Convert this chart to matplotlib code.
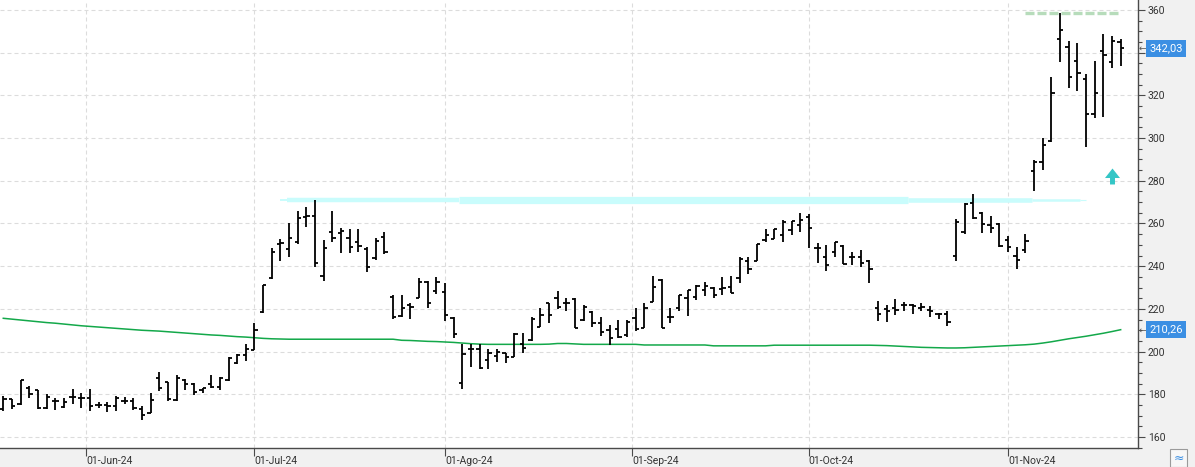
import numpy as np
import matplotlib
matplotlib.use('Agg')
import matplotlib.pyplot as plt
from matplotlib.path import Path
from matplotlib.patches import Rectangle

plt.rcParams['font.family'] = ['Roboto', 'DejaVu Sans']

# ---------------- data ----------------
opens = [173.3, 177.7, 175.3, 182.8, 181.9, 173.7, 176.9, 174.2, 178.7, 178.1,
         178.1, 174.8, 174.8, 174.5, 176.9, 176.9, 173.3, 171.4, 187.8, 185.9,
         177.2, 186.7, 184.7, 181.9, 184.7, 183.6, 186.6, 194.8, 198.5, 200.8,
         218.6, 234.5, 250.4, 247.9, 251.2, 263.2, 263.7, 235.6, 256.2, 255.4,
         253.0, 251.2, 248.0, 244.0, 253.5, 225.8, 216.8, 221.9, 225.0, 232.5,
         228.4, 227.8, 215.9, 185.3, 201.1, 201.1, 196.1, 198.0, 199.2, 197.6,
         203.4, 205.4, 211.6, 222.6, 225.0, 222.6, 224.7, 214.8, 218.7, 213.3,
         210.1, 210.4, 207.8, 215.6, 211.1, 223.4, 233.5, 216.4, 220.3, 225.0,
         225.8, 228.9, 229.6, 229.2, 230.1, 234.3, 242.4, 242.6, 252.2, 252.6,
         254.6, 257.0, 259.3, 263.2, 248.4, 244.5, 246.8, 249.5, 244.2, 244.5,
         242.3, 220.2, 219.8, 220.2, 221.7, 221.7, 220.6, 219.4, 217.5, 217.5,
         244.7, 256.1, 269.8, 264.7, 259.2, 259.7, 252.2, 244.7, 247.5, 284.7,
         288.9, 298.8, 346.3, 342.5, 336.1, 327.5, 311.1, 340.8, 335.8, 344.8]
highs = [179.2, 177.7, 186.6, 184.0, 181.9, 180.0, 178.1, 178.1, 182.3, 180.5,
         182.5, 176.4, 176.4, 179.2, 178.7, 178.4, 174.5, 180.5, 190.6, 185.9,
         189.1, 187.0, 185.2, 183.1, 188.9, 188.1, 197.7, 198.8, 203.5, 213.3,
         231.3, 248.4, 252.6, 260.0, 265.9, 267.9, 271.0, 252.3, 265.9, 258.0,
         257.4, 257.3, 249.1, 253.3, 255.9, 226.6, 226.6, 222.9, 234.4, 233.3,
         234.8, 232.0, 216.4, 203.6, 203.4, 203.4, 201.1, 201.1, 199.5, 208.6,
         208.6, 216.1, 220.3, 222.9, 228.4, 225.0, 225.0, 221.8, 219.2, 216.1,
         212.5, 214.8, 214.8, 220.3, 222.6, 235.4, 233.8, 220.3, 226.5, 228.9,
         231.3, 232.8, 230.1, 234.8, 235.4, 244.4, 244.1, 250.4, 257.4, 257.3,
         261.6, 261.3, 264.8, 264.3, 251.0, 249.9, 251.2, 249.9, 246.5, 247.6,
         242.8, 223.6, 222.0, 224.5, 223.3, 222.5, 222.8, 221.3, 218.3, 219.1,
         262.3, 269.4, 273.8, 265.5, 263.4, 260.3, 254.1, 248.8, 255.3, 289.7,
         300.2, 328.4, 358.4, 345.6, 344.4, 330.0, 336.1, 348.8, 347.8, 346.3]
lows = [172.2, 173.3, 175.0, 178.1, 173.1, 173.3, 172.8, 173.8, 175.3, 173.8,
        172.2, 173.8, 171.7, 172.2, 175.3, 172.5, 167.8, 171.1, 181.6, 176.9,
        176.9, 181.9, 179.5, 180.5, 183.1, 181.9, 186.2, 194.1, 195.5, 200.8,
        218.0, 234.0, 242.6, 244.5, 250.2, 258.2, 239.8, 233.2, 251.5, 246.0,
        246.3, 246.5, 237.1, 242.9, 245.7, 215.2, 216.4, 215.3, 225.0, 220.3,
        227.0, 214.5, 206.2, 182.3, 192.9, 191.7, 191.9, 195.3, 194.8, 197.6,
        199.2, 205.1, 211.4, 213.5, 219.8, 219.2, 210.9, 214.5, 211.4, 207.3,
        203.1, 206.2, 207.0, 209.8, 211.1, 223.4, 211.2, 213.5, 219.2, 216.6,
        224.0, 226.1, 224.9, 226.5, 227.4, 232.3, 236.3, 242.6, 251.5, 252.6,
        251.5, 254.6, 256.2, 248.6, 241.6, 237.9, 244.5, 240.9, 240.6, 239.4,
        232.2, 214.4, 213.9, 217.0, 219.1, 217.5, 219.1, 216.0, 215.2, 212.0,
        242.5, 255.0, 262.3, 255.6, 255.6, 249.0, 246.7, 238.9, 246.3, 275.3,
        285.0, 298.3, 335.8, 323.3, 322.2, 295.6, 309.2, 309.7, 332.7, 333.9]
closes = [177.7, 174.5, 186.6, 180.0, 173.4, 178.7, 176.9, 176.6, 178.7, 178.1,
          174.5, 174.8, 174.5, 178.4, 176.9, 173.7, 170.2, 177.2, 182.8, 177.7,
          187.5, 184.7, 181.3, 182.8, 183.6, 187.5, 197.2, 198.4, 201.0, 210.2,
          231.3, 246.5, 250.7, 253.0, 262.4, 263.5, 241.4, 248.4, 253.4, 256.6,
          248.8, 249.5, 239.5, 251.8, 246.5, 216.1, 220.3, 220.8, 232.5, 222.9,
          232.5, 217.0, 208.3, 199.1, 201.1, 192.2, 199.2, 200.0, 197.6, 208.3,
          201.5, 215.1, 217.1, 217.1, 221.1, 222.6, 210.9, 221.0, 213.6, 209.3,
          206.2, 207.0, 214.0, 210.4, 220.3, 230.4, 211.2, 216.4, 226.5, 228.7,
          230.5, 230.5, 226.4, 229.6, 227.4, 243.2, 238.5, 250.4, 254.6, 257.3,
          260.8, 261.2, 261.6, 258.0, 248.4, 240.6, 251.2, 240.9, 244.2, 241.7,
          238.9, 217.8, 219.1, 219.7, 221.7, 221.3, 220.9, 219.1, 217.8, 213.9,
          260.8, 269.1, 262.8, 259.7, 257.7, 249.5, 248.8, 243.1, 251.7, 288.6,
          297.0, 320.9, 350.6, 328.4, 330.3, 311.3, 320.9, 338.9, 345.6, 342.03]
ma = [215.6, 215.2, 214.8, 214.4, 214.0, 213.6, 213.3, 212.9, 212.5, 212.1,
      211.8, 211.5, 211.2, 210.9, 210.6, 210.3, 210.0, 209.8, 209.6, 209.3,
      209.0, 208.7, 208.4, 208.1, 207.8, 207.6, 207.3, 207.0, 206.8,
      206.5, 206.2, 206.0, 205.9, 205.8,
      205.8, 205.8, 205.8, 205.8, 205.8, 205.8, 205.8, 205.8, 205.8, 205.8, 205.8, 205.8,
      205.3, 205.2, 205.0, 204.8, 204.7, 204.5, 204.3, 204.0,
      203.7, 203.5, 203.4, 203.4, 203.4, 203.4, 203.4, 203.4, 203.4, 203.5,
      203.8, 203.8, 203.6,
      203.4, 203.4, 203.4, 203.4, 203.4, 203.4, 203.4,
      203.1, 203.1, 203.1, 203.1, 203.1, 203.1, 203.1, 203.1,
      202.7, 202.7, 202.7, 202.7, 202.7, 202.7, 202.7,
      203.0, 203.0, 203.0, 203.0, 203.0, 203.0, 203.0, 203.0, 203.0, 203.0, 203.0, 203.0,
      202.9, 202.8, 202.6, 202.4, 202.2, 202.0, 201.9, 201.8, 201.7, 201.7,
      201.8, 202.0, 202.2, 202.4, 202.6, 202.8, 203.0, 203.2,
      203.5, 204.0, 204.6, 205.3, 206.0, 206.6, 207.2, 207.9, 208.6, 209.4, 210.26]

month_labels = ['01-Jun-24', '01-Jul-24', '01-Ago-24', '01-Sep-24', '01-Oct-24', '01-Nov-24']
month_pos = [9.6, 29, 51, 72.6, 93, 116]

resistance = 271.0      # cyan band
top_level = 358.4       # green dashed level (high of the peak bar)
signal_bar = 128        # cyan up-arrow
signal_price = 282.2

# ---------------- figure ----------------
W, H = 1195, 467
fig = plt.figure(figsize=(W / 100, H / 100), dpi=100, facecolor='#f1f1f1')
ax = fig.add_axes([0, 19 / H, 1138 / W, 448 / H])
ax.set_facecolor('white')

x = np.arange(len(closes))
ax.set_xlim(-0.38, 131.0)
ax.set_ylim(154.85, 364.68)

# price-scale boxes hide the tick labels underneath them
box_values = [closes[-1], ma[-1]]
yt = np.arange(160, 361, 20)
ax.set_yticks(yt)
ax.set_yticklabels(['' if min(abs(v - b) for b in box_values) < 6 else str(v) for v in yt])
ax.set_yticks(np.arange(155, 365, 5), minor=True)
ax.set_xticks(month_pos)
ax.set_xticklabels(month_labels, ha='left')
ax.grid(True, which='major', color='#dcdcdc', linestyle=(0, (3.6, 2.7)), linewidth=0.8)
ax.set_axisbelow(True)

# cyan resistance band, tapered like a marker stroke
band = [(32.0, 32.7, 1.4), (32.7, 52.6, 3.2), (52.6, 104.5, 5.2),
        (104.5, 118.8, 3.3), (118.8, 124.3, 1.8), (124.3, 125.0, 0.8)]
for x0, x1, lw in band:
    ax.plot([x0, x1], [resistance, resistance], color='#c9fcfc', lw=lw,
            solid_capstyle='butt', zorder=1)

# green dashed top level
ax.plot([118.0, 128.7], [top_level, top_level], color='#b7dcbb', lw=2.4,
        linestyle=(0, (2.7, 0.9)), dash_capstyle='butt', zorder=1)

# moving average
ax.plot(x, ma, color='#13a84a', lw=1.1, zorder=2)

# OHLC bars
tick = 0.38
ax.vlines(x, lows, highs, color='black', lw=1.3, zorder=3)
ax.hlines(opens, x - tick, x, color='black', lw=1.3, zorder=3)
ax.hlines(closes, x, x + tick, color='black', lw=1.3, zorder=3)

# up-arrow signal
arrow = Path([(-0.94, -0.19), (0, 1), (0.94, -0.19), (0.31, -0.19),
              (0.31, -1), (-0.31, -1), (-0.31, -0.19), (-0.94, -0.19)])
ax.plot([signal_bar], [signal_price], marker=arrow, markersize=11.5,
        color='#34c6c6', markeredgewidth=0, zorder=4)

# axes styling
for s in ['top', 'left']:
    ax.spines[s].set_visible(False)
for s in ['right', 'bottom']:
    ax.spines[s].set_color('#4a4a4a')
    ax.spines[s].set_linewidth(1.0)
ax.yaxis.tick_right()
ax.tick_params(axis='y', which='major', direction='out', length=5, width=0.8,
               color='#4a4a4a', labelsize=7.5, labelcolor='#333333', pad=2)
ax.tick_params(axis='y', which='minor', direction='out', length=2.8, width=0.8,
               color='#4a4a4a')
ax.tick_params(axis='x', which='major', direction='out', length=6, width=0.8,
               color='#4a4a4a', labelsize=7.5, labelcolor='#333333', pad=0)

# last value boxes on the price scale
for val in box_values:
    txt = f'{val:.2f}'.replace('.', ',')
    ax.annotate(txt, xy=(1, val), xycoords=('axes fraction', 'data'),
                xytext=(11, 0), textcoords='offset pixels', ha='left', va='center',
                fontsize=8, color='white', zorder=6, annotation_clip=False,
                bbox=dict(boxstyle='square,pad=0.3', fc='#3b8fe3', ec='none'))
    ax.annotate('\u2190', xy=(1, val), xycoords=('axes fraction', 'data'),
                xytext=(1, 0), textcoords='offset pixels', ha='left', va='center',
                fontsize=6.5, color='#555555', family='DejaVu Sans', zorder=6,
                annotation_clip=False)

# small toolbar button in the corner
fig.patches.append(Rectangle((1170 / W, 0), 17 / W, 18 / H, transform=fig.transFigure,
                             fc='#f7f7f7', ec='#9a9a9a', lw=0.8))
fig.text(1178.5 / W, 9 / H, '\u2248', ha='center', va='center', fontsize=9,
         color='#3b8fe3', family='DejaVu Sans')

fig.savefig('out.png', dpi=100, facecolor=fig.get_facecolor())
